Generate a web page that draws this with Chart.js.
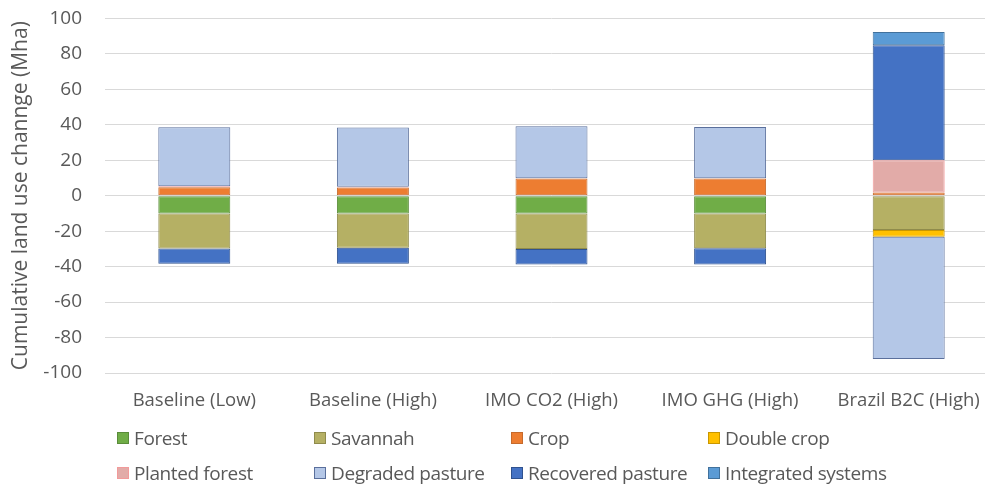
<!DOCTYPE html>
<html>
<head>
<meta charset="utf-8">
<script src="https://cdn.jsdelivr.net/npm/chart.js@4.4.0/dist/chart.umd.min.js"></script>
<style>
	html, body { margin: 0; padding: 0; background: #fff; overflow: hidden; }
	#wrap { position: relative; width: 998px; height: 488px; overflow: hidden; }
	#chartLandUse { display: block; margin-top: -16px; }
	#legend { position: absolute; left: 117px; top: 426px; display: grid; grid-template-columns: 197px 197px 197px 197px; row-gap: 12px; font-family: "Open Sans", sans-serif; font-size: 19px; color: #595959; letter-spacing: -0.4px; }
	#legend div { display: flex; align-items: center; height: 23px; white-space: nowrap; }
	#legend span.box { width: 10px; height: 10px; margin-right: 5px; border: 1px solid; }
</style>
</head>
<body>
<div id="wrap">
	<canvas id="chartLandUse" width="998" height="504"></canvas>
	<div id="legend"></div>
</div>
<script>
const categories = ["Baseline (Low)", "Baseline (High)", "IMO CO2 (High)", "IMO GHG (High)", "Brazil B2C (High)"];
const forest = [-10, -10, -10, -10, 0];
const savannah = [-19.8, -19.3, -20, -19.7, -19.4];
const crop = [4.8, 4.6, 9.7, 9.7, 1.8];
const doubleCrop = [0, 0, 0, 0, -3.8];
const plantedForest = [0.5, 0.5, 0.2, 0.2, 18.2];
const degradedPasture = [33.3, 33.3, 29.3, 28.9, -68.9];
const recoveredPasture = [-8.6, -9.1, -8.8, -9.1, 64.8];
const integratedSystems = [0, 0, 0, 0, 7.5];
const yTicks = [-100, -80, -60, -40, -20, 0, 20, 40, 60, 80, 100];

const font = "'Open Sans', sans-serif";
const grey = "#595959";

function makeSet(label, data, fill, border) {
	return {
		label: label,
		data: data,
		backgroundColor: fill,
		borderColor: border,
		borderWidth: 1,
		borderSkipped: false
	};
}

const datasets = [
	makeSet("Forest", forest, "#70AD47", "#5A8C3A"),
	makeSet("Savannah", savannah, "#B5B064", "#8F8B4C"),
	makeSet("Crop", crop, "#ED7D31", "#C66A2C"),
	makeSet("Double crop", doubleCrop, "#FFC000", "#C99700"),
	makeSet("Planted forest", plantedForest, "#E2ABA8", "#F29A9A"),
	makeSet("Degraded pasture", degradedPasture, "#B4C7E7", "#5A6F9C"),
	makeSet("Recovered pasture", recoveredPasture, "#4472C4", "#2F528F"),
	makeSet("Integrated systems", integratedSystems, "#5B9BD5", "#41719C")
];

new Chart(document.getElementById("chartLandUse"), {
	type: 'bar',
	data: {
		labels: categories,
		datasets: datasets
	},
	options: {
		responsive: false,
		animation: false,
		layout: { padding: { top: 2, left: 8, right: 0, bottom: 0 } },
		datasets: { bar: { barPercentage: 1, categoryPercentage: 0.403 } },
		plugins: {
			legend: { display: false },
			tooltip: { enabled: false }
		},
		scales: {
			x: {
				stacked: true,
				grid: { display: false, drawTicks: false },
				border: { display: false },
				ticks: { color: grey, font: { family: font, size: 18.5 }, padding: 17, maxRotation: 0 },
				afterFit: (scale) => { scale.height = 115; }
			},
			y: {
				stacked: true,
				min: -100,
				max: 100,
				afterBuildTicks: (scale) => { scale.ticks = yTicks.map(v => ({ value: v })); },
				grid: { color: "#D9D9D9", drawTicks: false },
				border: { display: false },
				ticks: { color: grey, font: { family: font, size: 19 }, padding: 23 },
				title: {
					display: true,
					text: "Cumulative land use channge (Mha)",
					color: grey,
					font: { family: font, size: 21 },
					padding: 0
				},
				afterFit: (scale) => { scale.width = 97; }
			}
		}
	}
});

const legend = document.getElementById("legend");
datasets.forEach(ds => {
	const item = document.createElement("div");
	const box = document.createElement("span");
	box.className = "box";
	box.style.background = ds.backgroundColor;
	box.style.borderColor = ds.borderColor;
	item.appendChild(box);
	item.appendChild(document.createTextNode(ds.label));
	legend.appendChild(item);
});
</script>
</body>
</html>
